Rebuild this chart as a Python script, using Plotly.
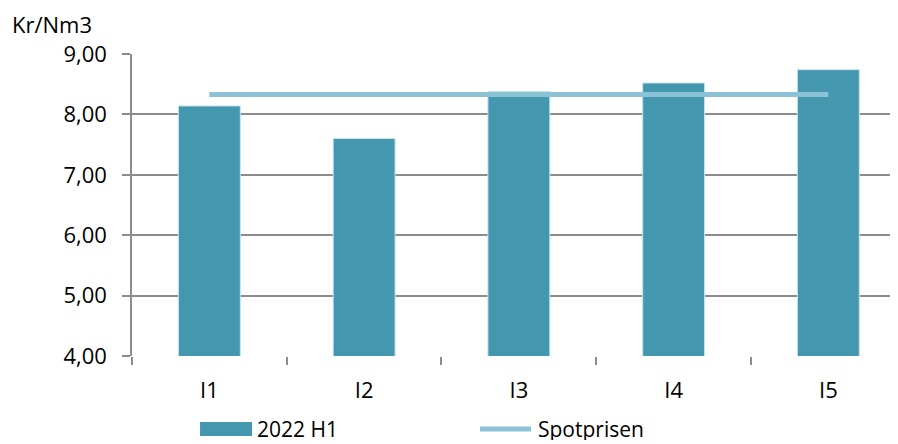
import plotly.graph_objects as go

categories = ["I1", "I2", "I3", "I4", "I5"]
h1_2022 = [8.14, 7.60, 8.38, 8.52, 8.74]
spotprisen = [8.33, 8.33, 8.33, 8.33, 8.33]
y_ticks = [4, 5, 6, 7, 8, 9]
legend_labels = ["2022 H1", "Spotprisen"]

BAR = "#4398B0"
LINE = "#8CC2D5"
GRID = "#8C8C8C"
FONT = "Open Sans"
FS = 22

fig = go.Figure()
fig.add_trace(go.Bar(
    x=categories, y=h1_2022, name=legend_labels[0],
    marker=dict(color=BAR, line=dict(color="#C9E3EC", width=1)),
    width=0.4, showlegend=False,
))
fig.add_trace(go.Scatter(
    x=categories, y=spotprisen, name=legend_labels[1], mode="lines",
    line=dict(color=LINE, width=5), showlegend=False,
))

# manual legend (layout decoration, paper coordinates)
LEG_Y = -0.2417
shapes = [
    dict(type="rect", xref="paper", yref="paper",
         x0=0.0888, x1=0.1567, y0=LEG_Y - 0.0232, y1=LEG_Y + 0.0232,
         fillcolor=BAR, line=dict(width=0)),
    dict(type="line", xref="paper", yref="paper",
         x0=0.4543, x1=0.5209, y0=LEG_Y, y1=LEG_Y,
         line=dict(color=LINE, width=5)),
]
txt = dict(xref="paper", yref="paper", showarrow=False, borderpad=0,
           height=22, valign="middle", xanchor="left", yanchor="middle",
           font=dict(family=FONT, size=FS, color="#000000"))
annotations = [
    dict(txt, text="Kr/Nm3", x=-0.158, y=1.099),
    dict(txt, text=legend_labels[0], x=0.1620, y=LEG_Y,
         font=dict(family=FONT, size=21, color="#000000")),
    dict(txt, text=legend_labels[1], x=0.5287, y=LEG_Y,
         font=dict(family=FONT, size=21, color="#000000")),
]

# page body has an 8px margin, so the figure is 8px smaller than the window
fig.update_layout(
    width=890, height=436,
    margin=dict(l=124, r=0, t=46, b=88, autoexpand=False),
    paper_bgcolor="white", plot_bgcolor="white",
    font=dict(family=FONT, size=FS, color="#000000"),
    separators=",.",
    bargap=0.6,
    showlegend=False,
    shapes=shapes,
    annotations=annotations,
)
fig.update_xaxes(
    type="category", range=[-0.5, 4.45], automargin=False,
    showgrid=False, showline=False,
    ticks="outside", tickson="boundaries", ticklen=8, tickcolor=GRID, tickwidth=1.5,
    ticklabelstandoff=19,
    tickfont=dict(family=FONT, size=FS, color="#000000"),
)
fig.update_yaxes(
    range=[4, 9], tickvals=y_ticks, tickformat=".2f", automargin=False,
    showgrid=True, gridcolor=GRID, gridwidth=1.5,
    showline=True, linecolor=GRID, linewidth=1.5,
    ticks="outside", ticklen=8, tickcolor=GRID, tickwidth=1.5,
    ticklabelstandoff=11,
    zeroline=False,
    tickfont=dict(family=FONT, size=FS, color="#000000"),
)

fig.write_html("out.html")
